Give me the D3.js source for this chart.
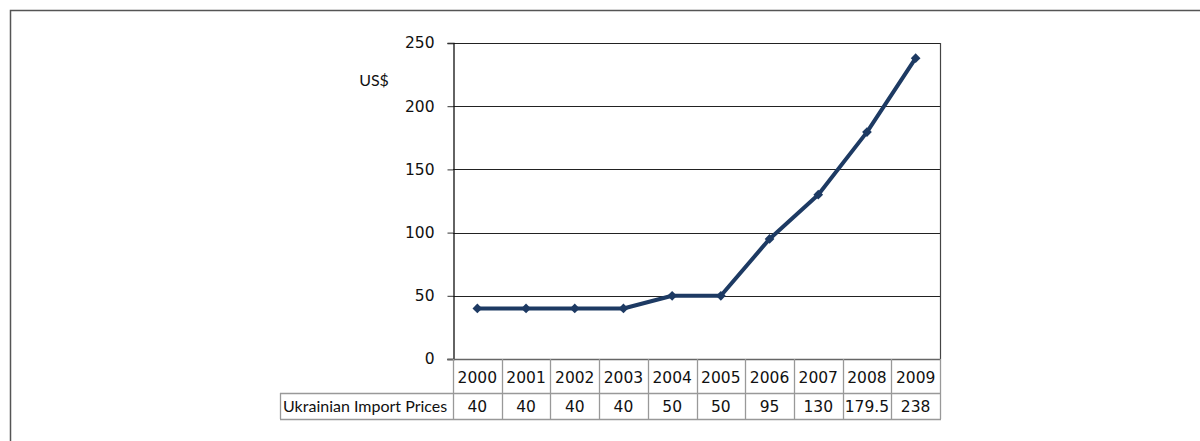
<!DOCTYPE html>
<html><head><meta charset="utf-8">
<script src="https://cdn.jsdelivr.net/npm/d3@7"></script>
<style>
html,body{margin:0;padding:0;background:#fff;}
svg text{font-family:"Lato","Open Sans",sans-serif;fill:#111;}
svg text.num{font-family:"DejaVu Sans",sans-serif;}
</style></head>
<body>
<svg id="c" width="1200" height="441"></svg>
<script>
const years = ["2000","2001","2002","2003","2004","2005","2006","2007","2008","2009"];
const prices = [40,40,40,40,50,50,95,130,179.5,238];
const priceLabels = ["40","40","40","40","50","50","95","130","179.5","238"];
const yTicks = [0,50,100,150,200,250];
const seriesName = "Ukrainian Import Prices";
const yUnit = "US$";

const svg = d3.select("#c");
// outer frame
svg.append("rect").attr("x",10.5).attr("y",10.5).attr("width",1300).attr("height",600)
  .attr("fill","none").attr("stroke","#555").attr("stroke-width",1.5);

const L=453, R=940, T=43, B=359;
const x = d3.scaleBand().domain(years).range([L,R]);
const y = d3.scaleLinear().domain([0,250]).range([B,T]);

// gridlines
svg.append("g").selectAll("line").data(yTicks.filter(d=>d>0)).join("line")
  .attr("x1",L).attr("x2",R).attr("y1",d=>Math.round(y(d))+0.5).attr("y2",d=>Math.round(y(d))+0.5)
  .attr("stroke","#222").attr("stroke-width",1);
// right border
svg.append("line").attr("x1",R+0.5).attr("x2",R+0.5).attr("y1",T).attr("y2",B)
  .attr("stroke","#444").attr("stroke-width",1.2);

// y axis
const yAxis = d3.axisLeft(y).tickValues(yTicks).tickSize(6).tickPadding(13);
const ga = svg.append("g").attr("transform",`translate(${L+0.5},0)`).call(yAxis);
ga.select(".domain").attr("stroke","#111").attr("stroke-width",1.3);
ga.selectAll(".tick line").attr("stroke","#333");
ga.selectAll(".tick text").attr("class","num").attr("font-size",15.5).attr("font-family","'DejaVu Sans', sans-serif").attr("fill","#111");
// bottom axis line
svg.append("line").attr("x1",L-6).attr("x2",R+1).attr("y1",B+0.5).attr("y2",B+0.5)
  .attr("stroke","#666").attr("stroke-width",1.5);

svg.append("text").attr("x",374).attr("y",86).attr("text-anchor","middle").attr("font-size",16).text(yUnit);

// line
const line = d3.line().x((d,i)=>x(years[i])+x.bandwidth()/2).y(d=>y(d));
svg.append("path").datum(prices).attr("d",line).attr("fill","none")
  .attr("stroke","#1d3a63").attr("stroke-width",4).attr("stroke-linejoin","round");
svg.append("g").selectAll("path").data(prices).join("path")
  .attr("d",d3.symbol().type(d3.symbolDiamond2).size(60))
  .attr("transform",(d,i)=>`translate(${x(years[i])+x.bandwidth()/2},${y(d)})`)
  .attr("fill","#1d3a63");

// table
const rowTop=B, rowMid=393, rowBot=419, labelLeft=280;
const tg = svg.append("g");
const gray="#999";
tg.append("line").attr("x1",labelLeft).attr("x2",R+1).attr("y1",rowMid+0.5).attr("y2",rowMid+0.5).attr("stroke",gray).attr("stroke-width",1.3);
tg.append("line").attr("x1",labelLeft).attr("x2",R+1).attr("y1",rowBot+0.5).attr("y2",rowBot+0.5).attr("stroke",gray).attr("stroke-width",1.3);
const vx = years.map(d=>x(d)).concat([R]);
tg.selectAll("line.v").data(vx).join("line").attr("class","v")
  .attr("x1",d=>Math.round(d)+0.5).attr("x2",d=>Math.round(d)+0.5).attr("y1",rowTop).attr("y2",rowBot)
  .attr("stroke",gray).attr("stroke-width",1.3);
tg.append("line").attr("x1",labelLeft+0.5).attr("x2",labelLeft+0.5).attr("y1",rowMid).attr("y2",rowBot)
  .attr("stroke",gray).attr("stroke-width",1.3);
tg.selectAll("text.yr").data(years).join("text").attr("class","yr num")
  .attr("x",d=>x(d)+x.bandwidth()/2).attr("y",rowTop+24).attr("text-anchor","middle").attr("font-size",15.5).text(d=>d);
tg.selectAll("text.pv").data(priceLabels).join("text").attr("class","pv num")
  .attr("x",(d,i)=>x(years[i])+x.bandwidth()/2).attr("y",rowMid+19).attr("text-anchor","middle").attr("font-size",15.5).text(d=>d);
tg.append("text").attr("x",labelLeft+3).attr("y",rowMid+19).attr("font-size",16).text(seriesName);
</script>
</body></html>
